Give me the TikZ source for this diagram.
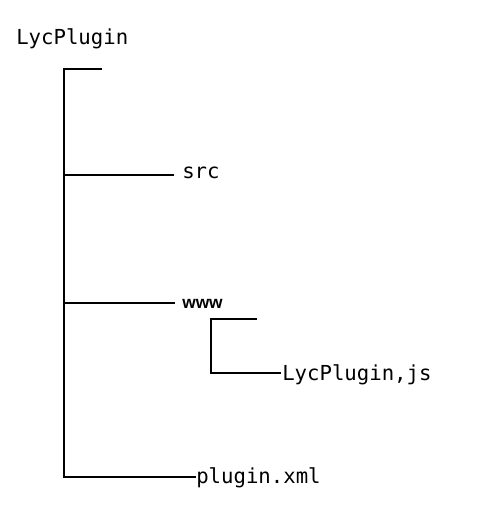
\documentclass[tikz,border=0pt]{standalone}
\usepackage{fontspec}
\setmonofont{DejaVu Sans Mono}
\newfontfamily\wwwfont{Liberation Sans}
\begin{document}
\begin{tikzpicture}[x=0.75pt,y=-0.75pt,
  lbl/.style={anchor=base west,inner sep=0pt,font=\ttfamily\fontsize{15.5}{18}\selectfont},
  wwwlbl/.style={anchor=base west,inner sep=0pt,font=\wwwfont\bfseries\fontsize{13}{15}\selectfont},
  wire/.style={line width=0.8pt,black}]
\useasboundingbox (0,0) rectangle (502,530);
\fill[white] (0,0) rectangle (502,530);
% labels
\node[lbl] (root) at (16,45) {LycPlugin};
\node[lbl] (src) at (182,179) {src};
\node[wwwlbl] (www) at (182,308) {www};
\node[lbl] (js) at (282,380) {LycPlugin,js};
\node[lbl] (xml) at (196,483) {plugin.xml};
% trunk points
\coordinate (t0) at (64,69);
\coordinate (t0e) at (102,69);
\coordinate (t1) at (64,175);
\coordinate (t2) at (64,303);
\coordinate (t3) at (64,477);
\coordinate (s0) at (211,319);
\coordinate (s0e) at (257,319);
\coordinate (s1) at (211,373);
% connectors
\draw[wire] (t0e) -- (t0) -- (t3) -- (t3 -| xml.west);
\draw[wire] (t1) -- ([xshift=-6pt]t1 -| src.west);
\draw[wire] (t2) -- ([xshift=-5pt]t2 -| www.west);
\draw[wire] (s0e) -- (s0) -- (s1) -- ([xshift=-1pt]s1 -| js.west);
\end{tikzpicture}
\end{document}
